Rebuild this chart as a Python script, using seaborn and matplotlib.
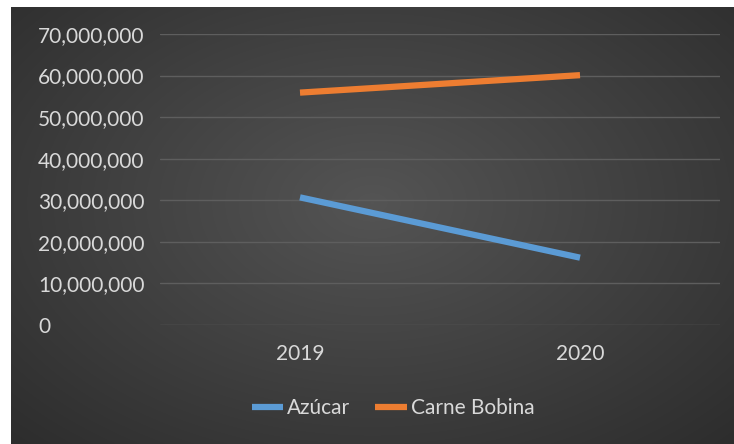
import numpy as np
import pandas as pd
import matplotlib
matplotlib.use("Agg")
import matplotlib.pyplot as plt
import seaborn as sns

years = ["2019", "2020"]
azucar = [30700000, 16200000]
carne = [55900000, 60100000]
series_names = ["Azúcar", "Carne Bobina"]
yticks = [0, 10000000, 20000000, 30000000, 40000000, 50000000, 60000000, 70000000]

df = pd.DataFrame({
    "Año": years * 2,
    "Valor": azucar + carne,
    "Serie": [series_names[0]] * 2 + [series_names[1]] * 2,
})

sns.set_theme(style="dark")
plt.rcParams["font.family"] = ["Lato", "DejaVu Sans"]

W, H = 734, 444
fig = plt.figure(figsize=(W / 100, H / 100), dpi=100, facecolor="white")

# background with radial gradient
bx0, by0 = 11 / W, 0
bg = fig.add_axes([bx0, by0, 1 - bx0, (H - 7) / H])
yy, xx = np.mgrid[0:1:300j, 0:1:400j]
r = np.sqrt(((xx - 0.5) / 0.7) ** 2 + ((yy - 0.45) / 0.75) ** 2)
val = 0.33 - 0.15 * np.clip(r, 0, 1.2)
bg.imshow(np.dstack([val, val, val]), aspect="auto", extent=[0, 1, 0, 1], interpolation="bilinear")
bg.set_axis_off()

ax = fig.add_axes([160 / W, (H - 325) / H, 560 / W, 291 / H])
ax.patch.set_alpha(0)
sns.lineplot(data=df, x="Año", y="Valor", hue="Serie", palette=["#5B9BD5", "#ED7D31"],
             linewidth=4.5, ax=ax, legend=True, solid_capstyle="butt")
ax.set_xlim(-0.5, 1.5)
ax.set_ylim(0, 70000000)
ax.set_yticks(yticks)
ax.set_yticklabels([f"{v:,.0f}" for v in yticks])
ax.grid(axis="y", color="#5e5e5e", linewidth=1.0)
ax.grid(axis="x", visible=False)
for s in ax.spines.values():
    s.set_visible(False)
ax.set_xlabel("")
ax.set_ylabel("")
ax.tick_params(axis="y", length=0, pad=122 * 72 / 100, labelsize=15, labelcolor="#d9d9d9")
ax.tick_params(axis="x", length=0, pad=14, labelsize=15, labelcolor="#d9d9d9")
for lab in ax.get_yticklabels():
    lab.set_horizontalalignment("left")

leg = ax.legend(loc="center", bbox_to_anchor=((393 - 160) / 560, (408 - 325) / -291.0), ncol=2,
                frameon=False, fontsize=15, handlelength=1.5, handletextpad=0.2, columnspacing=1.2)
for t in leg.get_texts():
    t.set_color("#d9d9d9")
for h in leg.get_lines():
    h.set_linewidth(4.5)
    h.set_solid_capstyle("butt")

fig.savefig("out.png", dpi=100, facecolor="white")
